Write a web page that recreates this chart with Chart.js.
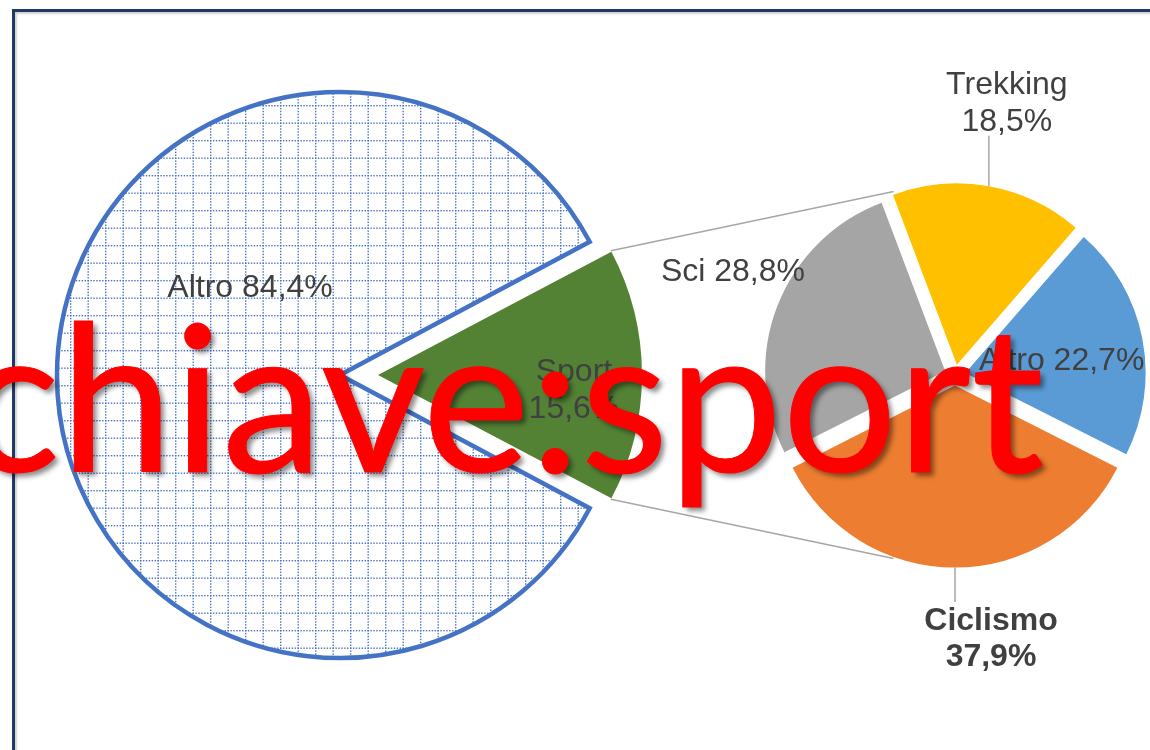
<!DOCTYPE html>
<html>
<head>
<meta charset="utf-8">
<script src="https://cdn.jsdelivr.net/npm/chart.js@4.4.1/dist/chart.umd.min.js"></script>
<style>
  html, body { margin: 0; padding: 0; background: #ffffff; width: 1150px; height: 750px; overflow: hidden; }
  #frame {
    position: absolute; left: 12px; top: 9px; width: 1300px; height: 900px;
    border-left: 3px solid #1f3864; border-top: 3px solid #1f3864;
    box-shadow: inset 2px 2px 2px rgba(0, 0, 0, 0.18);
  }
  canvas { position: absolute; left: 0; top: 0; }
  #stamp {
    position: absolute; right: 106px; top: 292px;
    font-family: Lato, "Open Sans", sans-serif; font-size: 203px; line-height: 1;
    color: #ff0000; white-space: nowrap;
    -webkit-text-stroke: 1px #ff0000;
    text-shadow: 4px 4px 5px rgba(0, 0, 0, 0.45);
  }
</style>
</head>
<body>
<div id="frame"></div>
<canvas id="mainPie" width="1150" height="750"></canvas>
<canvas id="detailPie" width="1150" height="750"></canvas>
<div id="stamp">chiave:sport</div>
<script>
// Share of the keyword among all topics
const mainLabels = ['Sport', 'Altro'];
const mainValues = [15.6, 84.4];

// Breakdown of the "Sport" share
const detailLabels = ['Sci', 'Trekking', 'Altro', 'Ciclismo'];
const detailValues = [28.8, 18.5, 22.7, 37.9];

const detailColors = ['#a5a5a5', '#ffc000', '#5b9bd5', '#ed7d31'];
const sportGreen = '#548235';
const altroBlue = '#4472c4';

const LABEL_FONT = '"Liberation Sans", Arial, sans-serif';
const sum = arr => arr.reduce((a, b) => a + b, 0);
const pct = v => v.toFixed(1).replace('.', ',') + '%';

// Dotted grid fill used for the "Altro" slice
function dottedGrid() {
  const size = 35, cell = size / 2, dots = 12;
  const c = document.createElement('canvas');
  c.width = size; c.height = size;
  const g = c.getContext('2d');
  g.fillStyle = '#ffffff';
  g.fillRect(0, 0, size, size);
  g.fillStyle = altroBlue;
  for (let k = 0; k < dots; k++) {
    const t = k * size / dots;
    for (const line of [0, cell]) {
      g.fillRect(t, line, 1.4, 1.4);
      g.fillRect(line, t, 1.4, 1.4);
    }
  }
  return g.createPattern(c, 'repeat');
}

// Where an arc is actually painted once its offset (explosion) is applied
function sliceGeometry(arc) {
  const mid = (arc.startAngle + arc.endAngle) / 2;
  const circ = arc.endAngle - arc.startAngle;
  const off = (arc.options.offset || 0) / 4;
  const grow = off * (1 - Math.sin(Math.min(Math.PI, circ)));
  return {
    x: arc.x + Math.cos(mid) * off,
    y: arc.y + Math.sin(mid) * off,
    r: arc.outerRadius + grow,
    mid, start: arc.startAngle, end: arc.endAngle
  };
}

// Lets a dataset shrink individual slices (radiusScale per slice)
const sliceRadius = {
  id: 'sliceRadius',
  afterDatasetUpdate(chart, args) {
    const scale = chart.data.datasets[args.index].radiusScale;
    if (!scale) return;
    args.meta.data.forEach((arc, i) => { if (scale[i]) arc.outerRadius *= scale[i]; });
  }
};

// Category + percentage labels, optionally with a vertical leader line
const sliceLabels = {
  id: 'sliceLabels',
  afterDatasetsDraw(chart, args, opts) {
    const meta = chart.getDatasetMeta(0);
    const ds = chart.data.datasets[0];
    const ctx = chart.ctx;
    const cap = opts.size * 0.716;
    ctx.save();
    opts.items.forEach((item, i) => {
      const g = sliceGeometry(meta.data[i]);
      const name = chart.data.labels[i];
      const lines = item.twoLines ? [name, pct(ds.data[i])] : [name + ' ' + pct(ds.data[i])];
      ctx.font = (item.bold ? 'bold ' : '') + opts.size + 'px ' + LABEL_FONT;
      ctx.fillStyle = opts.color;
      ctx.textAlign = 'center';
      ctx.textBaseline = 'alphabetic';
      let ax, firstBase;
      if (item.leader) {
        const px = g.x + Math.cos(g.mid) * g.r;
        const py = g.y + Math.sin(g.mid) * g.r;
        const ey = py + item.leader;
        ctx.strokeStyle = opts.leaderColor;
        ctx.lineWidth = 1.5;
        ctx.beginPath(); ctx.moveTo(px, py); ctx.lineTo(px, ey); ctx.stroke();
        ax = px + (item.dx || 0);
        firstBase = item.leader < 0
          ? ey - opts.gap - (lines.length - 1) * opts.lineHeight
          : ey + opts.gap + cap;
      } else {
        const a = item.angle * Math.PI / 180;
        ax = g.x + Math.cos(a) * item.dist * g.r;
        const ay = g.y + Math.sin(a) * item.dist * g.r;
        firstBase = ay - (lines.length - 1) * opts.lineHeight / 2 + cap / 2;
      }
      lines.forEach((t, k) => ctx.fillText(t, ax, firstBase + k * opts.lineHeight));
    });
    ctx.restore();
  }
};

// Lines joining the exploded slice of the main pie to the detail pie
const connectors = {
  id: 'connectors',
  beforeDatasetsDraw(chart, args, opts) {
    const main = Chart.getChart('mainPie');
    if (!main) return;
    const src = sliceGeometry(main.getDatasetMeta(0).data[opts.fromIndex]);
    const ref = chart.getDatasetMeta(0).data[0];
    const rr = ref.outerRadius + opts.reach;
    const spread = opts.spread * Math.PI / 180;
    const ctx = chart.ctx;
    ctx.save();
    ctx.strokeStyle = opts.color;
    ctx.lineWidth = opts.width;
    [[src.start, Math.PI + spread], [src.end, Math.PI - spread]].forEach(([a, t]) => {
      ctx.beginPath();
      ctx.moveTo(src.x + Math.cos(a) * src.r, src.y + Math.sin(a) * src.r);
      ctx.lineTo(ref.x + Math.cos(t) * rr, ref.y + Math.sin(t) * rr);
      ctx.stroke();
    });
    ctx.restore();
  }
};

const labelStyle = { size: 32, lineHeight: 36.5, gap: 5, color: '#404040', leaderColor: '#a6a6a6' };

// Main pie: "Sport" pulled out towards the detail pie
new Chart(document.getElementById('mainPie'), {
  type: 'pie',
  data: {
    labels: mainLabels,
    datasets: [{
      data: mainValues,
      backgroundColor: [sportGreen, dottedGrid()],
      borderColor: [sportGreen, altroBlue],
      borderWidth: [0, 4.5],
      borderJoinStyle: 'miter',
      offset: [152, 0],
      radiusScale: [0.91, 1],
      radius: 283,
      rotation: 90 - mainValues[0] / sum(mainValues) * 180
    }]
  },
  options: {
    responsive: false,
    animation: false,
    devicePixelRatio: 1,
    events: [],
    layout: { padding: { left: 0, right: 470, top: 0, bottom: 0 } },
    plugins: {
      legend: { display: false },
      tooltip: { enabled: false },
      sliceLabels: Object.assign({}, labelStyle, {
        items: [
          { twoLines: true, angle: 3.8, dist: 0.744 },
          { angle: 224.7, dist: 0.447 }
        ]
      })
    }
  },
  plugins: [sliceRadius, sliceLabels]
});

// Detail pie: breakdown of "Sport", every slice slightly exploded
const ciclismoSpan = detailValues[3] / sum(detailValues) * 360;
new Chart(document.getElementById('detailPie'), {
  type: 'pie',
  data: {
    labels: detailLabels,
    datasets: [{
      data: detailValues,
      backgroundColor: detailColors,
      borderWidth: 0,
      offset: 42,
      radius: 180,
      rotation: -180 + ciclismoSpan / 2
    }]
  },
  options: {
    responsive: false,
    animation: false,
    devicePixelRatio: 1,
    events: [],
    layout: { padding: { left: 760, right: 0, top: 0, bottom: 0 } },
    plugins: {
      legend: { display: false },
      tooltip: { enabled: false },
      connectors: { fromIndex: 0, reach: 13.5, spread: 71.5, color: '#a6a6a6', width: 1.5 },
      sliceLabels: Object.assign({}, labelStyle, {
        items: [
          { angle: 205.5, dist: 1.306 },
          { twoLines: true, leader: -50.5, dx: 18 },
          { angle: 351.6, dist: 0.54 },
          { twoLines: true, leader: 34.5, dx: 36, bold: true }
        ]
      })
    }
  },
  plugins: [connectors, sliceLabels]
});
</script>
</body>
</html>
